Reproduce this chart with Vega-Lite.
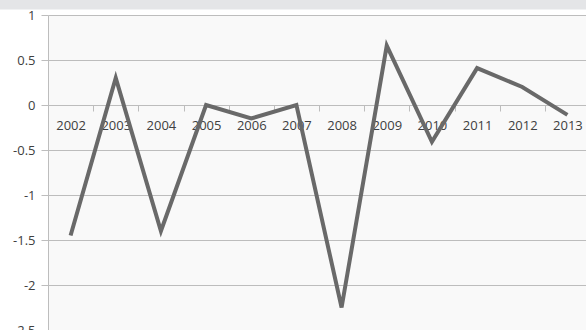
{
  "$schema": "https://vega.github.io/schema/vega-lite/v6.json",
  "width": 542,
  "height": 315,
  "autosize": {"type": "none"},
  "padding": {"left": 48, "top": 15, "right": 0, "bottom": 0},
  "background": "white",
  "config": {"view": {"fill": "#f9f9f9", "stroke": null}},
  "layer": [
    {
      "data": {"values": [{}]},
      "mark": {"type": "rect", "color": "#e4e5e7", "clip": false},
      "encoding": {
        "x": {"datum": -0.1, "type": "quantitative", "scale": {"domain": [0, 1]}, "axis": null},
        "x2": {"datum": 1.1},
        "y": {"datum": 1.06, "type": "quantitative"},
        "y2": {"datum": 1.2}
      }
    },
    {
      "data": {"values": [
        {"year": "2002", "value": -1.45},
        {"year": "2003", "value": 0.3},
        {"year": "2004", "value": -1.4},
        {"year": "2005", "value": 0.0},
        {"year": "2006", "value": -0.15},
        {"year": "2007", "value": 0.0},
        {"year": "2008", "value": -2.25},
        {"year": "2009", "value": 0.66},
        {"year": "2010", "value": -0.41},
        {"year": "2011", "value": 0.41},
        {"year": "2012", "value": 0.2},
        {"year": "2013", "value": -0.11}
      ]},
      "mark": {"type": "line", "color": "#696969", "strokeWidth": 4},
      "encoding": {
        "x": {
          "field": "year", "type": "nominal",
          "scale": {"type": "band", "paddingInner": 0, "paddingOuter": 0},
          "axis": {
            "orient": "bottom", "offset": -225, "title": null, "grid": false, "domain": false,
            "tickBand": "extent", "ticks": true, "tickSize": 6, "tickColor": "#bdbdbd",
            "labelAngle": 0, "labelPadding": 8, "labelFont": "Open Sans", "labelFontSize": 13,
            "labelColor": "#404040"
          }
        },
        "y": {
          "field": "value", "type": "quantitative",
          "scale": {"domain": [-2.5, 1], "nice": false, "zero": false},
          "axis": {
            "title": null, "values": [-2.5, -2, -1.5, -1, -0.5, 0, 0.5, 1],
            "labelExpr": "'' + datum.value",
            "grid": true, "gridColor": "#bdbdbd", "gridWidth": 1,
            "domain": true, "domainColor": "#bdbdbd", "tickColor": "#bdbdbd", "tickSize": 7,
            "labelPadding": 6, "labelFont": "Open Sans", "labelFontSize": 13, "labelColor": "#404040"
          }
        }
      }
    }
  ],
  "resolve": {"scale": {"x": "independent"}}
}
